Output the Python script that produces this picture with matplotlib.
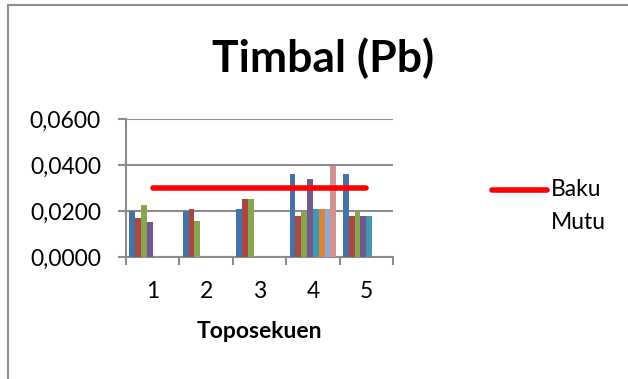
import matplotlib
matplotlib.use("Agg")
import matplotlib.pyplot as plt
import numpy as np
from matplotlib.patches import Rectangle
from matplotlib.lines import Line2D

plt.rcParams['font.family'] = ['Lato', 'DejaVu Sans']

categories = ["1", "2", "3", "4", "5"]
# series values per category (None = missing)
s1 = [0.0200, 0.0200, 0.0209, 0.0361, 0.0361]
s2 = [0.0168, 0.0209, 0.0252, 0.0180, 0.0180]
s3 = [0.0226, 0.0157, 0.0252, 0.0197, 0.0197]
s4 = [0.0154, None, None, 0.0338, 0.0180]
s5 = [None, None, None, 0.0209, 0.0177]
s6 = [None, None, None, 0.0209, None]
s7 = [None, None, None, 0.0209, None]
s8 = [None, None, None, 0.0397, None]
baku_mutu = [0.030, 0.030, 0.030, 0.030, 0.030]
yticks = [0.0, 0.02, 0.04, 0.06]
ytick_labels = ["0,0000", "0,0200", "0,0400", "0,0600"]

series = [s1, s2, s3, s4, s5, s6, s7, s8]
colors = ["#4572A7", "#AA4643", "#89A54E", "#71588F", "#4198AF", "#DB843D", "#93A9CF", "#D19392"]

fig = plt.figure(figsize=(6.28, 3.79), dpi=100)
fig.patches.append(Rectangle((8/628, -0.1), 1, 1.1 - 5/379, transform=fig.transFigure,
                             fill=False, edgecolor="#8c8c8c", linewidth=1.5))

ax = fig.add_axes([126/628, (379-257)/379, 267/628, 138/379])
x = np.arange(len(categories))
n = len(series)
group = 0.87
w = group / n
for i, (vals, c) in enumerate(zip(series, colors)):
    xs = [xi - group/2 + w*(i+0.5) for xi, v in zip(x, vals) if v is not None]
    vs = [v for v in vals if v is not None]
    ax.bar(xs, vs, width=w, color=c, zorder=3)

ax.plot(x, baku_mutu, color="#FF0000", linewidth=4, solid_capstyle="round", zorder=4)

fs = 16.5
ax.set_xlim(-0.5, len(categories) - 0.5)
ax.set_ylim(0, 0.06)
ax.set_yticks(yticks)
ax.set_yticklabels(ytick_labels, fontsize=fs)
ax.set_xticks(x)
ax.set_xticklabels(categories, fontsize=fs)
ax.set_xticks(np.arange(len(categories) + 1) - 0.5, minor=True)
ax.tick_params(axis='x', which='major', length=0, pad=17)
ax.tick_params(axis='x', which='minor', length=6, color="#8c8c8c", width=1.5)
ax.tick_params(axis='y', length=6, color="#8c8c8c", width=1.5, pad=12)
ax.yaxis.grid(True, color="#8c8c8c", linewidth=1.5, zorder=0)
for s in ["top", "right"]:
    ax.spines[s].set_visible(False)
ax.spines["left"].set_color("#8c8c8c")
ax.spines["left"].set_linewidth(1.5)
ax.spines["bottom"].set_color("#8c8c8c")
ax.spines["bottom"].set_linewidth(1.5)
ax.set_xlabel("Toposekuen", fontsize=fs, fontweight="bold", labelpad=14)

fig.text(323/628, 1 - 58/379, "Timbal (Pb)", ha="center", va="center",
         fontsize=32, fontweight="bold")

fig.lines.append(Line2D([492/628, 547/628], [1 - 190/379, 1 - 190/379], transform=fig.transFigure,
                        color="#FF0000", linewidth=4, solid_capstyle="round"))
fig.text(551/628, 1 - 190/379, "Baku", ha="left", va="center", fontsize=fs)
fig.text(551/628, 1 - 222/379, "Mutu", ha="left", va="center", fontsize=fs)

fig.savefig("out.png", dpi=100)
